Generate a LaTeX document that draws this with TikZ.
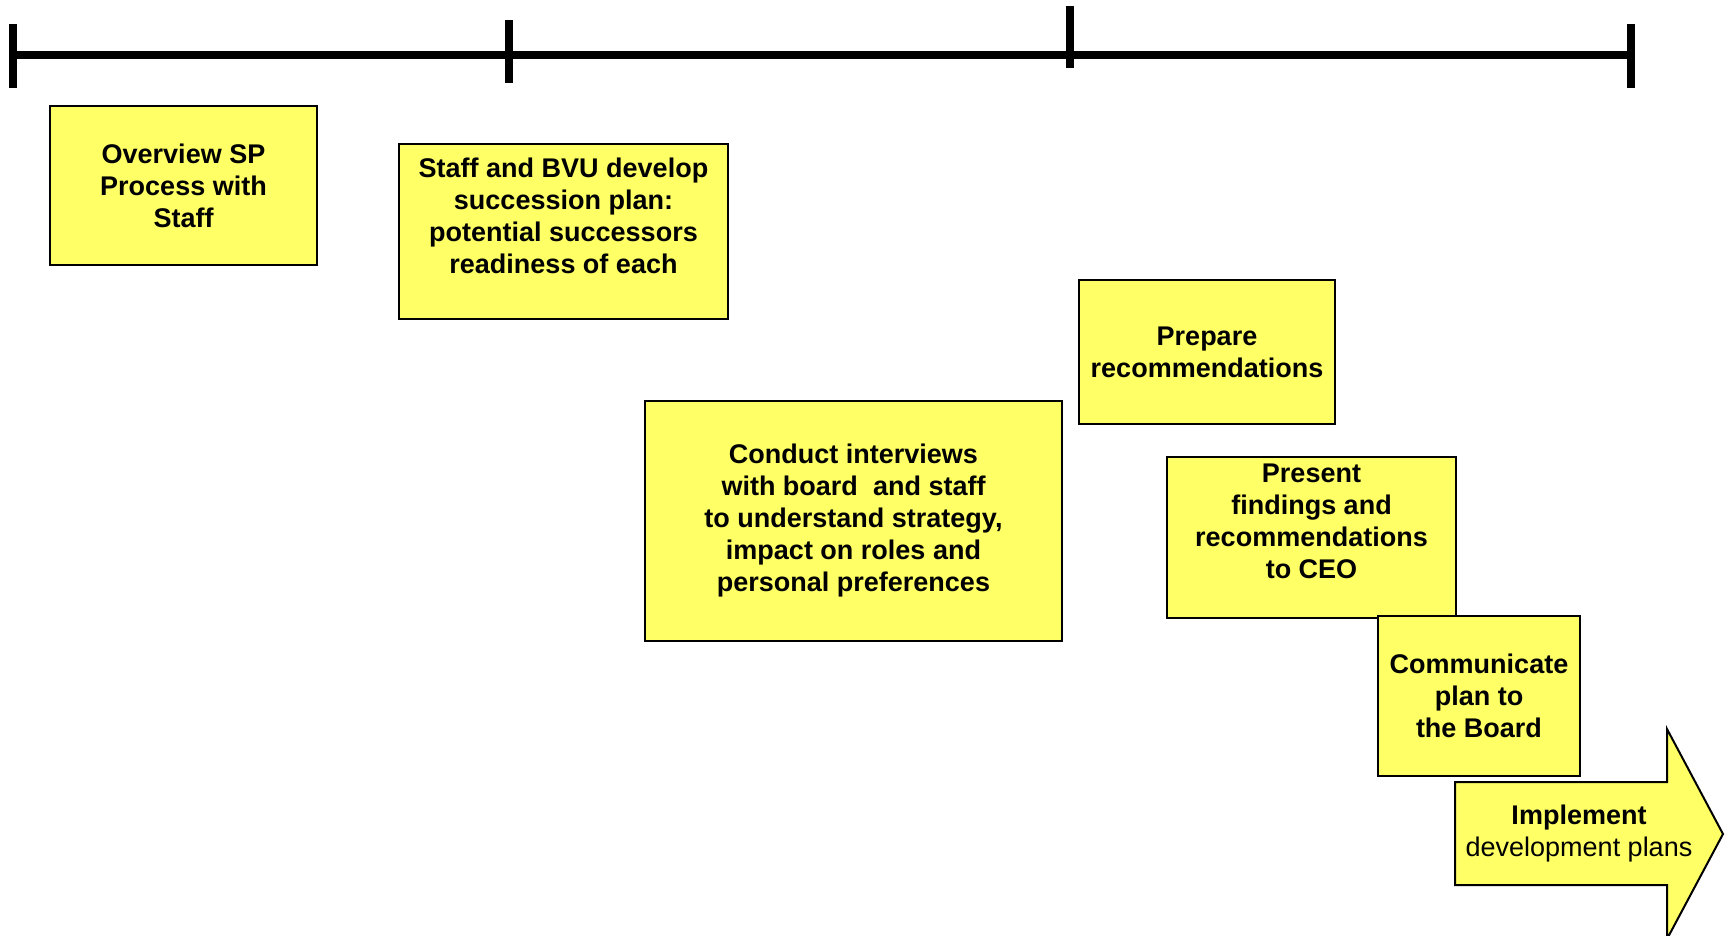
\documentclass[tikz,border=0pt]{standalone}
\usepackage{fontspec}
\setmainfont{Liberation Sans}
\usetikzlibrary{positioning, calc}
\definecolor{noteyellow}{RGB}{255,255,102}

\begin{document}
\begin{tikzpicture}[x=0.5pt, y=-0.5pt,
            task/.style={draw, line width=1pt, fill=noteyellow, align=center, inner sep=0pt,
                font=\fontsize{13.5}{16}\selectfont\bfseries},
            timeline/.style={line width=4pt},
            tickmark/.style={line width=4pt}]

            % Page frame
            \useasboundingbox (0,0) rectangle (1731,936);
            \clip (0,0) rectangle (1731,936);

            % Timeline with its four tick marks
            \coordinate (t0) at (13,55);
            \coordinate (t1) at (509,55);
            \coordinate (t2) at (1070,55);
            \coordinate (t3) at (1631,55);
            \draw[timeline] (t0) -- (t3);
            \draw[tickmark] ($(t0)+(0,-31)$) -- ($(t0)+(0,33)$);
            \draw[tickmark] ($(t1)+(0,-35)$) -- ($(t1)+(0,28)$);
            \draw[tickmark] ($(t2)+(0,-49)$) -- ($(t2)+(0,13)$);
            \draw[tickmark] ($(t3)+(0,-31)$) -- ($(t3)+(0,33)$);

            % Steps, stepping down to the right
            \node[task, minimum width=133.5pt, minimum height=79.5pt] (overview) at (183.5,185.5)
                {Overview SP\\Process with\\Staff};
            \node[task, minimum width=164.5pt, minimum height=87.5pt] (develop) at (563.5,231.5)
                {Staff and BVU develop\\succession plan:\\potential successors\\readiness of each\\\mbox{}};
            \node[task, minimum width=208.5pt, minimum height=120pt] (interviews) at (853.5,521)
                {Conduct interviews\\with board~ and staff\\to understand strategy,\\impact on roles and\\personal preferences};
            \node[task, minimum width=128pt, minimum height=72pt] (prepare) at (1207,352)
                {Prepare\\recommendations};
            \node[task, minimum width=144.5pt, minimum height=80.5pt] (present) at (1311.5,537.5)
                {Present\\findings and\\recommendations\\to CEO\\\mbox{}};
            \node[task, minimum width=101pt, minimum height=80pt] (communicate) at (1479,696)
                {Communicate\\plan to\\the Board};

            % Final arrow, runs off the bottom edge
            \coordinate (tip) at (1723,834);
            \draw[line width=1pt, fill=noteyellow] (1455,782) -- (1667,782) -- (1667,729) -- (tip)
                -- (1667,939) -- (1667,885) -- (1455,885) -- cycle;
            \node[align=center, font=\fontsize{13.5}{16}\selectfont] (implement) at (1579,834)
                {\textbf{Implement}\\development plans};
        \end{tikzpicture}
\end{document}
